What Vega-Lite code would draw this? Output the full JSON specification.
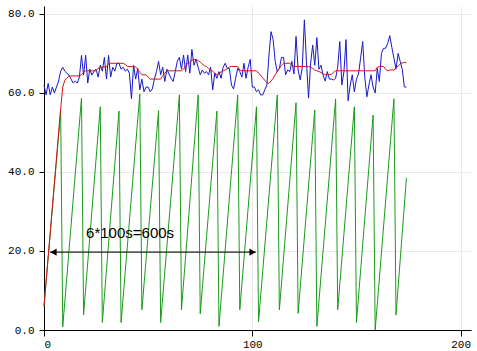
{
  "$schema": "https://vega.github.io/schema/vega-lite/v6.json",
  "width": 427,
  "height": 324,
  "autosize": "none",
  "padding": {"left": 44, "top": 6, "right": 5, "bottom": 21},
  "background": "white",
  "config": {
    "view": {"stroke": null},
    "axis": {
      "labelFont": "Liberation Mono",
      "labelFontSize": 11,
      "labelColor": "#000000",
      "domainColor": "#000000",
      "tickColor": "#000000",
      "tickSize": 5,
      "gridColor": "#e8e8e8",
      "gridWidth": 1,
      "title": null
    }
  },
  "datasets": {
    "green": [
      {"x": 0, "y": 6}, {"x": 8, "y": 55.3}, {"x": 9, "y": 0.8},
      {"x": 18, "y": 58.7}, {"x": 19, "y": 3.8},
      {"x": 27, "y": 56.5}, {"x": 28, "y": 1.9},
      {"x": 36, "y": 55.4}, {"x": 37, "y": 1.9},
      {"x": 46, "y": 59.7}, {"x": 47, "y": 5.1},
      {"x": 55, "y": 55.5}, {"x": 56, "y": 1.9},
      {"x": 65, "y": 59.5}, {"x": 66, "y": 5.1},
      {"x": 74, "y": 59.5}, {"x": 75, "y": 4.1},
      {"x": 83, "y": 55.4}, {"x": 84, "y": 0.9},
      {"x": 93, "y": 59.5}, {"x": 94, "y": 5.1},
      {"x": 102, "y": 56.5}, {"x": 103, "y": 2.1},
      {"x": 112, "y": 59.5}, {"x": 113, "y": 5.1},
      {"x": 121, "y": 57.5}, {"x": 122, "y": 4.2},
      {"x": 130, "y": 55.7}, {"x": 131, "y": 0.9},
      {"x": 140, "y": 58.5}, {"x": 141, "y": 5.1},
      {"x": 149, "y": 56.5}, {"x": 150, "y": 1.9},
      {"x": 158, "y": 54.4}, {"x": 159, "y": 0},
      {"x": 168, "y": 58.5}, {"x": 169, "y": 3.8},
      {"x": 174, "y": 38.5}
    ],
    "blue": [
      {"x":0,"y":62},{"x":1,"y":59.5},{"x":2,"y":62.4},{"x":3,"y":59.5},{"x":4,"y":61.5},{"x":5,"y":60},{"x":6,"y":61.5},{"x":7,"y":63},{"x":8,"y":65.5},{"x":9,"y":66.5},
      {"x":10,"y":65.5},{"x":11,"y":65},{"x":12,"y":64.5},{"x":13,"y":63.5},{"x":14,"y":62.5},{"x":15,"y":63},{"x":16,"y":62.5},{"x":17,"y":64},{"x":18,"y":69.5},{"x":19,"y":64.5},
      {"x":20,"y":69.5},{"x":21,"y":62.5},{"x":22,"y":66},{"x":23,"y":64.5},{"x":24,"y":65.5},{"x":25,"y":66},{"x":26,"y":64},{"x":27,"y":67},{"x":28,"y":65.5},{"x":29,"y":69},
      {"x":30,"y":63.5},{"x":31,"y":69.5},{"x":32,"y":64},{"x":33,"y":66.5},{"x":34,"y":65.5},{"x":35,"y":67.5},{"x":36,"y":67.5},{"x":37,"y":66},{"x":38,"y":66.5},{"x":39,"y":65.5},
      {"x":40,"y":66},{"x":41,"y":65},{"x":42,"y":58.5},{"x":43,"y":67},{"x":44,"y":63.5},{"x":45,"y":66.2},{"x":46,"y":60.8},{"x":47,"y":63.5},{"x":48,"y":60.3},{"x":49,"y":61.5},
      {"x":50,"y":61.5},{"x":51,"y":60.3},{"x":52,"y":61},{"x":53,"y":63.5},{"x":54,"y":65.4},{"x":55,"y":68},{"x":56,"y":64.6},{"x":57,"y":66.5},{"x":58,"y":62.9},{"x":59,"y":66},
      {"x":60,"y":64.8},{"x":61,"y":63.7},{"x":62,"y":62.9},{"x":63,"y":65.4},{"x":64,"y":68},{"x":65,"y":69},{"x":66,"y":66},{"x":67,"y":69.6},{"x":68,"y":65.4},{"x":69,"y":69.6},
      {"x":70,"y":65},{"x":71,"y":71},{"x":72,"y":67},{"x":73,"y":68.5},{"x":74,"y":66.5},{"x":75,"y":64.6},{"x":76,"y":65.8},{"x":77,"y":65},{"x":78,"y":65.4},{"x":79,"y":64.6},
      {"x":80,"y":66.5},{"x":81,"y":60.8},{"x":82,"y":65},{"x":83,"y":63.7},{"x":84,"y":65.4},{"x":85,"y":63.7},{"x":86,"y":66.5},{"x":87,"y":67.5},{"x":88,"y":66.2},{"x":89,"y":66.2},
      {"x":90,"y":62},{"x":91,"y":61},{"x":92,"y":63.7},{"x":93,"y":66.2},{"x":94,"y":65.4},{"x":95,"y":64},{"x":96,"y":67.5},{"x":97,"y":63.7},{"x":98,"y":66.5},{"x":99,"y":68.5},
      {"x":100,"y":61.5},{"x":101,"y":61.5},{"x":102,"y":60.3},{"x":103,"y":60.8},{"x":104,"y":59.5},{"x":105,"y":59.5},{"x":106,"y":60.8},{"x":107,"y":62},{"x":108,"y":69.6},{"x":109,"y":75.5},
      {"x":110,"y":73.5},{"x":111,"y":68},{"x":112,"y":65.4},{"x":113,"y":66.2},{"x":114,"y":69},{"x":115,"y":69},{"x":116,"y":64.6},{"x":117,"y":65.8},{"x":118,"y":65.4},{"x":119,"y":68},
      {"x":120,"y":64.8},{"x":121,"y":74.3},{"x":122,"y":65.8},{"x":123,"y":63.3},{"x":124,"y":66.5},{"x":125,"y":78.5},{"x":126,"y":68},{"x":127,"y":58.7},{"x":128,"y":67.5},{"x":129,"y":72.1},
      {"x":130,"y":67},{"x":131,"y":74},{"x":132,"y":66},{"x":133,"y":67},{"x":134,"y":64.5},{"x":135,"y":63},{"x":136,"y":65.4},{"x":137,"y":63.5},{"x":138,"y":63.5},{"x":139,"y":63.3},
      {"x":140,"y":63.7},{"x":141,"y":66.5},{"x":142,"y":73},{"x":143,"y":62},{"x":144,"y":65.4},{"x":145,"y":73.5},{"x":146,"y":58},{"x":147,"y":62},{"x":148,"y":64.6},{"x":149,"y":60.3},
      {"x":150,"y":63.5},{"x":151,"y":64.8},{"x":152,"y":68.8},{"x":153,"y":73},{"x":154,"y":64},{"x":155,"y":59},{"x":156,"y":62},{"x":157,"y":64.6},{"x":158,"y":61.5},{"x":159,"y":60},
      {"x":160,"y":66.2},{"x":161,"y":62.9},{"x":162,"y":70},{"x":163,"y":71.3},{"x":164,"y":71.3},{"x":165,"y":72.5},{"x":166,"y":74.5},{"x":167,"y":71.5},{"x":168,"y":68.8},{"x":169,"y":66},
      {"x":170,"y":70},{"x":171,"y":68},{"x":172,"y":66},{"x":173,"y":61.5},{"x":174,"y":61.5}
    ],
    "red": [
      {"x":0,"y":6},{"x":8,"y":56},{"x":9,"y":61.5},{"x":10,"y":63.2},{"x":11,"y":63.8},{"x":12,"y":64.2},{"x":13,"y":64.3},{"x":17,"y":64.3},{"x":18,"y":64.6},{"x":19,"y":65.2},
      {"x":20,"y":65.6},{"x":25,"y":65.6},{"x":26,"y":66.2},{"x":27,"y":66.5},{"x":30,"y":66.6},{"x":31,"y":67.4},{"x":32,"y":67.5},{"x":38,"y":67.5},{"x":39,"y":67.2},
      {"x":40,"y":66.7},{"x":44,"y":66.6},{"x":45,"y":66},{"x":46,"y":65.2},{"x":47,"y":64.6},{"x":49,"y":64.6},{"x":50,"y":64},{"x":51,"y":63.5},{"x":56,"y":63.5},
      {"x":57,"y":64.4},{"x":58,"y":65},{"x":59,"y":65.6},{"x":66,"y":65.6},{"x":67,"y":66},{"x":68,"y":66.8},{"x":69,"y":67.5},{"x":70,"y":67.6},{"x":71,"y":68.3},
      {"x":72,"y":68.5},{"x":73,"y":68.4},{"x":74,"y":68.2},{"x":75,"y":67.8},{"x":76,"y":67.3},{"x":77,"y":66.9},{"x":78,"y":66.7},{"x":79,"y":66.2},{"x":80,"y":65.8},
      {"x":81,"y":65.5},{"x":82,"y":65},{"x":83,"y":64.6},{"x":84,"y":65},{"x":85,"y":65.3},{"x":86,"y":65.6},{"x":87,"y":65.8},{"x":88,"y":66.1},{"x":89,"y":66.6},
      {"x":90,"y":66.7},{"x":93,"y":66.7},{"x":94,"y":65.8},{"x":95,"y":65.6},{"x":102,"y":65.6},{"x":103,"y":65},{"x":104,"y":64.5},{"x":105,"y":63.8},{"x":106,"y":63.2},
      {"x":107,"y":62.6},{"x":108,"y":62.4},{"x":109,"y":63},{"x":110,"y":63.7},{"x":111,"y":64.6},{"x":112,"y":65.5},{"x":113,"y":66.2},{"x":114,"y":67},{"x":115,"y":67.5},
      {"x":118,"y":67.5},{"x":119,"y":67},{"x":120,"y":66.7},{"x":127,"y":66.7},{"x":128,"y":66.5},{"x":129,"y":66.2},{"x":130,"y":65.8},{"x":131,"y":65.6},{"x":132,"y":65.4},
      {"x":133,"y":65.2},{"x":134,"y":64.8},{"x":135,"y":64.6},{"x":137,"y":64.6},{"x":138,"y":64.7},{"x":139,"y":65.2},{"x":140,"y":65.6},{"x":159,"y":65.6},{"x":160,"y":66.5},
      {"x":161,"y":66.7},{"x":163,"y":66.7},{"x":164,"y":66},{"x":165,"y":65.6},{"x":166,"y":65.8},{"x":168,"y":65.8},{"x":169,"y":66.4},{"x":170,"y":66.8},{"x":171,"y":67.3},
      {"x":172,"y":67.6},{"x":173,"y":67.7},{"x":174,"y":67.7}
    ],
    "arrow": [
      {"x": 2.9, "x2": 101.8, "y": 19.7}
    ],
    "heads": [
      {"x": 4.6, "y": 19.7, "dir": "triangle-left"},
      {"x": 100.1, "y": 19.7, "dir": "triangle-right"}
    ],
    "label": [
      {"x": 20.2, "y": 23.2, "text": "6*100s=600s"}
    ]
  },
  "layer": [
    {
      "data": {"name": "green"},
      "mark": {"type": "line", "color": "#1a9a1a", "strokeWidth": 1},
      "encoding": {
        "x": {"field": "x", "type": "quantitative", "scale": {"domain": [0, 205], "nice": false, "zero": false},
              "axis": {"values": [0, 100, 200], "format": "d", "grid": true, "labelPadding": 2, "tickSize": 6}},
        "y": {"field": "y", "type": "quantitative", "scale": {"domain": [0, 82], "nice": false, "zero": false},
              "axis": {"values": [0, 20, 40, 60, 80], "format": ".1f", "grid": true, "labelPadding": 5}}
      }
    },
    {
      "data": {"name": "blue"},
      "mark": {"type": "line", "color": "#1818cc", "strokeWidth": 1},
      "encoding": {
        "x": {"field": "x", "type": "quantitative"},
        "y": {"field": "y", "type": "quantitative"}
      }
    },
    {
      "data": {"name": "red"},
      "mark": {"type": "line", "color": "#d41414", "strokeWidth": 1},
      "encoding": {
        "x": {"field": "x", "type": "quantitative"},
        "y": {"field": "y", "type": "quantitative"}
      }
    },
    {
      "data": {"name": "arrow"},
      "mark": {"type": "rule", "color": "#222222", "strokeWidth": 1.3},
      "encoding": {
        "x": {"field": "x", "type": "quantitative"},
        "x2": {"field": "x2"},
        "y": {"field": "y", "type": "quantitative"}
      }
    },
    {
      "data": {"name": "heads"},
      "mark": {"type": "point", "filled": true, "color": "#000000", "opacity": 1, "size": 50},
      "encoding": {
        "x": {"field": "x", "type": "quantitative"},
        "y": {"field": "y", "type": "quantitative"},
        "shape": {"field": "dir", "type": "nominal", "scale": {"domain": ["triangle-left", "triangle-right"], "range": ["triangle-left", "triangle-right"]}, "legend": null}
      }
    },
    {
      "data": {"name": "label"},
      "mark": {"type": "text", "font": "Liberation Sans", "fontSize": 15, "align": "left", "baseline": "alphabetic", "color": "#000000"},
      "encoding": {
        "x": {"field": "x", "type": "quantitative"},
        "y": {"field": "y", "type": "quantitative"},
        "text": {"field": "text", "type": "nominal"}
      }
    }
  ]
}
